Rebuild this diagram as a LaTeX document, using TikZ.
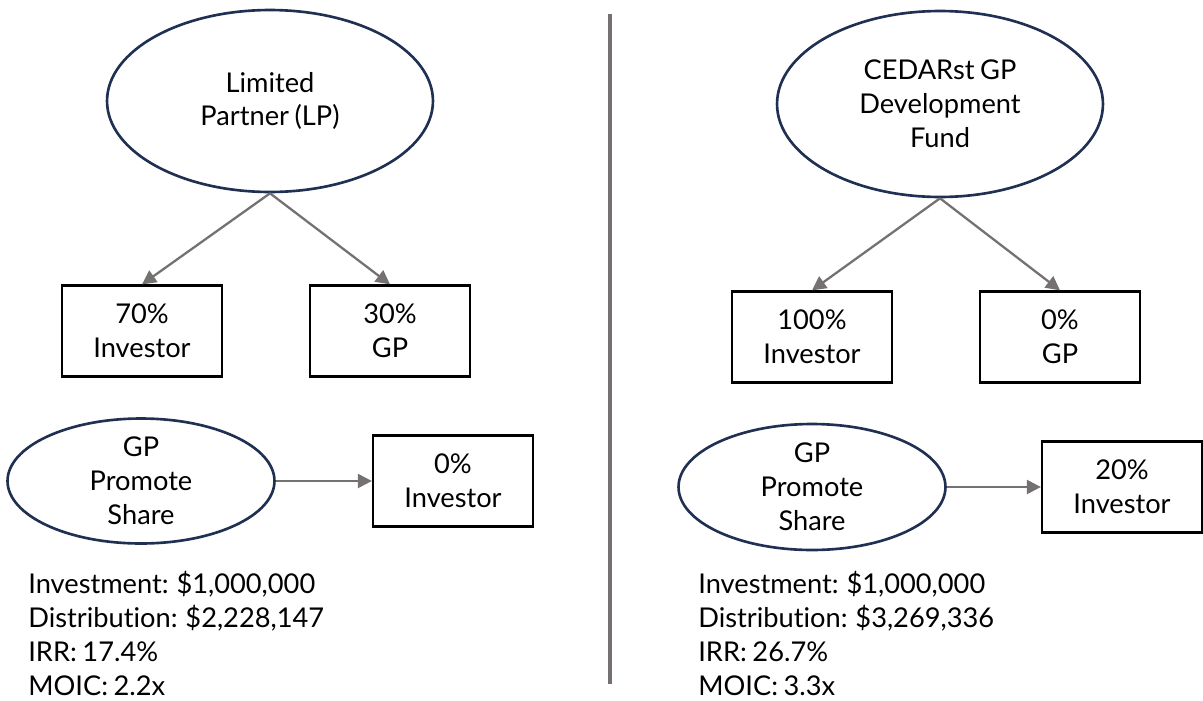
\documentclass[tikz,border=0pt]{standalone}
\usepackage{fontspec}
\setmainfont{Lato}[Ligatures=NoCommon,WordSpace=0.8]
\usetikzlibrary{shapes.geometric,arrows.meta}
\definecolor{navy}{HTML}{1F3052}
\definecolor{arrowgray}{HTML}{767171}

\begin{document}
\begin{tikzpicture}[x=0.02cm,y=-0.02cm,
  font=\fontsize{15.5}{19.3}\selectfont,
  oval/.style={ellipse,draw=navy,line width=1.5pt,inner sep=0pt,align=center},
  box/.style={rectangle,draw=black,line width=1.3pt,inner sep=0pt,
              minimum width=3.2cm,minimum height=1.82cm,align=center},
  flow/.style={draw=arrowgray,line width=1.3pt,-{Triangle[length=8pt,width=8pt]}},
  stats/.style={anchor=north west,align=left,inner sep=0pt}]
  \useasboundingbox (0,0) rectangle (1203,700);

  % left side
  \node[oval,minimum width=6.52cm,minimum height=3.64cm] (lp) at (270,101)
      {Limited\\Partner (LP)};
  \node[box] (lpinv) at (142,331) {70\%\\Investor};
  \node[box] (lpgp) at (390,331) {30\%\\GP};
  \node[oval,minimum width=5.34cm,minimum height=2.5cm] (lpprom) at (141,481)
      {GP\\Promote\\Share};
  \node[box] (lpshare) at (453,481) {0\%\\Investor};

  \draw[flow] (lp.south) -- (lpinv.north);
  \draw[flow] (lp.south) -- (lpgp.north);
  \draw[flow] (lpprom.east) -- (lpshare.west);

  \node[stats] (lpstats) at (28,571)
      {Investment: \$1,000,000\\Distribution: \$2,228,147\\IRR: 17.4\%\\MOIC: 2.2x};

  % divider
  \coordinate (top) at (610,14);
  \coordinate (bottom) at (610,684);
  \draw[arrowgray,line width=2pt] (top) -- (bottom);

  % right side
  \node[oval,minimum width=6.52cm,minimum height=3.72cm] (fund) at (940,104)
      {CEDARst GP\\Development\\Fund};
  \node[box] (fundinv) at (812,337) {100\%\\Investor};
  \node[box] (fundgp) at (1060,337) {0\%\\GP};
  \node[oval,minimum width=5.34cm,minimum height=2.52cm] (fundprom) at (812,487)
      {GP\\Promote\\Share};
  \node[box] (fundshare) at (1122,487) {20\%\\Investor};

  \draw[flow] (fund.south) -- (fundinv.north);
  \draw[flow] (fund.south) -- (fundgp.north);
  \draw[flow] (fundprom.east) -- (fundshare.west);

  \node[stats] (fundstats) at (698,571)
      {Investment: \$1,000,000\\Distribution: \$3,269,336\\IRR: 26.7\%\\MOIC: 3.3x};
\end{tikzpicture}
\end{document}
